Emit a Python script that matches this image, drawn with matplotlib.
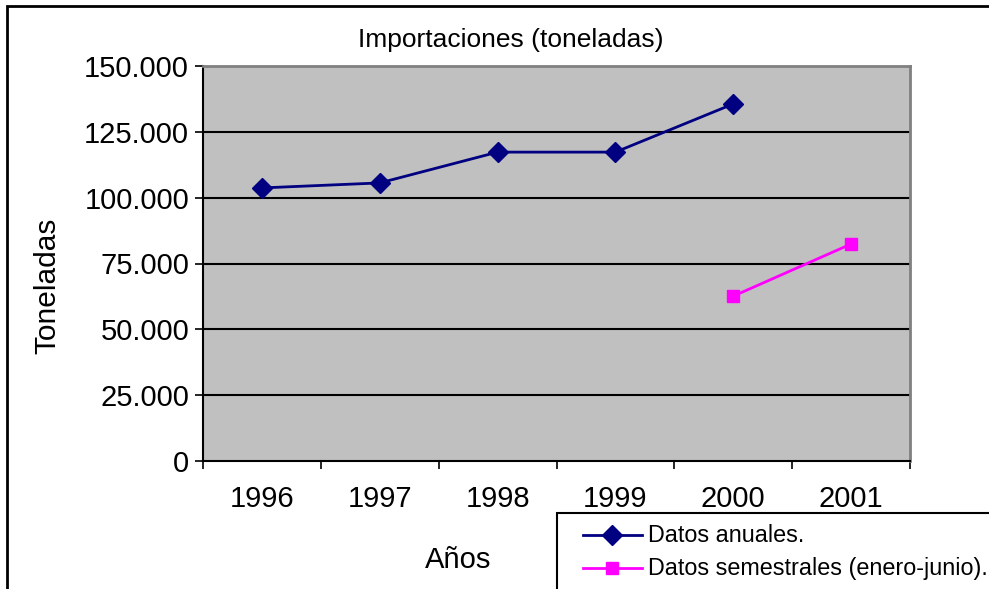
import numpy as np
import matplotlib
matplotlib.use("Agg")
import matplotlib.pyplot as plt
from matplotlib.patches import Rectangle
from matplotlib.lines import Line2D
from matplotlib.ticker import FuncFormatter

plt.rcParams.update({"font.family": ["Liberation Sans", "DejaVu Sans"]})

years = ["1996", "1997", "1998", "1999", "2000", "2001"]
anual = [103700, 105600, 117300, 117300, 135600, np.nan]
semestral = [np.nan, np.nan, np.nan, np.nan, 62600, 82400]
y_ticks = [0, 25000, 50000, 75000, 100000, 125000, 150000]

W, H = 989, 589
fig = plt.figure(figsize=(W / 100, H / 100), dpi=100)
ax = fig.add_axes([203 / W, 1 - 461 / H, (910 - 203) / W, (461 - 66) / H])
ax.set_facecolor("#C0C0C0")

x = np.arange(1, len(years) + 1)
ax.plot(x, anual, color="#000080", lw=2, marker="D", ms=10, zorder=3)
ax.plot(x, semestral, color="#FF00FF", lw=2, marker="s", ms=9,
        mec="#FF00FF", zorder=3)

ax.set_xlim(0.5, len(years) + 0.5)
ax.set_ylim(0, 150000)
ax.set_yticks(y_ticks)
ax.yaxis.set_major_formatter(FuncFormatter(lambda v, p: f"{int(v):,}".replace(",", ".")))
ax.set_xticks(np.arange(0.5, len(years) + 1, 1))
ax.set_xticklabels([])
ax.set_xticks(x, minor=True)
ax.set_xticklabels(years, minor=True)
ax.tick_params(axis="x", which="minor", length=0, pad=17, labelsize=21)
ax.tick_params(axis="x", which="major", length=6, width=1.2, direction="out")
ax.tick_params(axis="y", length=6, width=1.2, direction="out", pad=4, labelsize=21)

for v in y_ticks[1:-1]:
    ax.axhline(v, color="black", lw=1.5, zorder=1)

for s in ["top", "right"]:
    ax.spines[s].set_color("#808080")
    ax.spines[s].set_linewidth(2)
for s in ["left", "bottom"]:
    ax.spines[s].set_color("black")
    ax.spines[s].set_linewidth(1.5)

fig.text(511 / W, 1 - 40 / H, "Importaciones (toneladas)", ha="center", va="center", fontsize=19)
fig.text(47 / W, 1 - 286 / H, "Toneladas", ha="center", va="center", rotation=90, fontsize=21.5)
fig.text(458 / W, 1 - 560 / H, "Años", ha="center", va="center", fontsize=21)

# outer chart border
fig.patches.append(Rectangle((7 / W, -0.1), 1.2, 1 - 6 / H + 0.1, transform=fig.transFigure,
                             fill=False, ec="black", lw=2))

# legend box (cut off by figure edge as in the original)
fig.patches.append(Rectangle((557 / W, -0.1), 0.6, 1 - 513 / H + 0.1, transform=fig.transFigure,
                             fc="white", ec="black", lw=1.5))
for row, (lab, col, mk, ms) in enumerate([("Datos anuales.", "#000080", "D", 10),
                                          ("Datos semestrales (enero-junio).", "#FF00FF", "s", 9)]):
    yy = 1 - (535 + 33 * row) / H
    fig.lines.append(Line2D([583 / W, 642 / W], [yy, yy], transform=fig.transFigure,
                            color=col, lw=2))
    fig.lines.append(Line2D([612 / W], [yy], transform=fig.transFigure, color=col,
                            marker=mk, ms=ms, mec=col))
    fig.text(648 / W, yy, lab, ha="left", va="center", fontsize=16.8)

fig.savefig("out.png", dpi=100)
